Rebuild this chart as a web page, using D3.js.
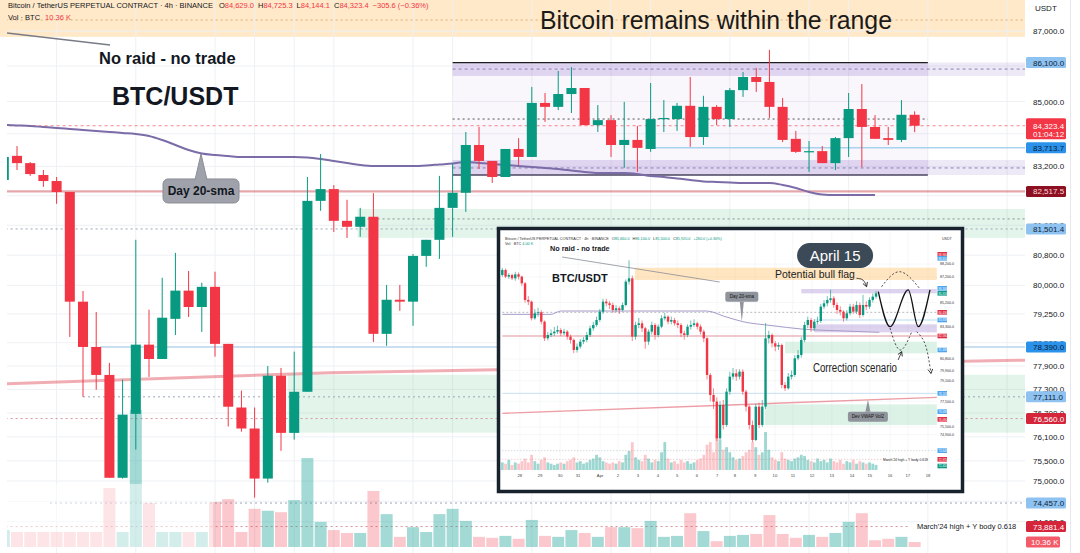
<!DOCTYPE html>
<html>
<head>
<meta charset="utf-8">
<script src="https://cdn.jsdelivr.net/npm/d3@7/dist/d3.min.js"></script>
<style>
html,body{margin:0;padding:0;background:#fff;overflow:hidden;}
svg{display:block;}
text{font-family:"Liberation Sans",Arial,sans-serif;}
</style>
</head>
<body>
<svg id="chart" width="1080" height="553"></svg>
<script>
// ================= MAIN CHART DATA (BTC/USDT perpetual, 4h) =================
const candleOpen = [82830,83490,83290,82965,82800,82500,79570,78390,77670,75080,
 76680,78450,78080,79120,79860,79430,79960,78470,76840,76310,
 75060,77650,76200,77240,82260,82580,81720,81560,81830,78730,
 79620,79570,80780,81210,82070,82480,83790,83350,82910,83680,
 83460,84960,84850,85210,85380,84340,84480,83790,83930,83680,
 84510,84510,84880,84010,84850,84510,85320,85690,85550,84850,
 83960,83600,83620,83290,83980,84790,84290,83980,83930,84629.0];
const candleHigh = [83600,83760,83320,83100,82910,82500,79850,79300,77980,77550,
 81210,79360,80200,80860,80380,80070,80360,78470,77270,76840,
 77900,77850,78270,82910,83540,82690,82290,82070,82470,80010,
 80010,80830,81210,82940,83290,84150,84290,83350,83680,83980,
 85410,85240,85860,85970,85380,84900,84620,84990,84320,85520,
 85040,84960,85690,85160,84900,85380,85830,85950,86460,85100,
 84180,83900,83760,84010,85240,85490,84620,84290,85040,84725.3];
const candleLow = [82770,83100,82940,82640,82180,78650,77110,77290,75080,75060,
 75780,77620,78080,78700,79170,78780,78140,76360,76230,74590,
 74960,75750,76030,77240,81990,81420,81260,81290,78520,78420,
 79330,78940,80490,80700,81290,81960,83130,82750,82910,83240,
 83460,84430,84760,84680,84340,84150,83460,83160,83050,83600,
 84150,84180,83740,83790,84340,84290,85130,85270,84540,83870,
 83570,83050,83290,83100,83460,83180,83960,83790,83870,84144.1];
const candleClose = [83460,83290,82990,82800,82500,79570,78390,77670,75080,76660,
 78450,78080,79150,79860,79430,79960,78470,76860,76310,75060,
 77650,76200,77240,82260,82580,81720,81560,81830,78730,79620,
 79570,80780,81210,82070,82480,83790,83350,82910,83680,83460,
 84960,84850,85210,85380,84340,84480,83790,83930,83710,84510,
 84540,84880,84010,84850,84510,85320,85690,85550,84850,83930,
 83600,83620,83290,83980,84790,84290,83960,83930,84629,84323.4];
const candleVolume = [35,31,31,31,31,31,31,31,122,31,
 284,91,31,31,31,31,93,99,31,79,
 75,72,97,184,52,35,29,29,116,68,
 21,41,31,68,79,54,21,19,23,17,
 56,23,21,35,29,21,41,41,39,54,
 21,23,70,33,12,23,25,27,66,27,
 19,25,21,29,52,70,14,17,21,10.36];
const sma20Day = [84345,84331,84317,84289,84261,84234,84206,84178,84150,84123,
 84095,84039,83928,83790,83652,83555,83514,83486,83459,83459,
 83459,83459,83459,83445,83404,83349,83294,83239,83211,83211,
 83211,83211,83225,83253,83280,83321,83294,83267,83239,83211,
 83184,83157,83129,83088,83047,83020,83020,83020,82993,82938,
 82911,82870,82829,82788,82774,82761,82747,82747,82747,82693,
 82611,82502,82434,82420,82420,82420,82420];
const vwapLine = [[0.24,77445],[24.7,77725],[77.36,78050]];
const trendLine = [[0.24,86940],[8.05,86600]];
const dayGridIdx = [4,10,16,19,22,25,31,34,40,46,49,55,61,64,70,76];
const priceTicks = [87000,86000,85000,84100,83200,82400,81600,80800,80000,79250,78500,77900,77300,76700,76100,75500,75000,74500,74000];
const priceTickLabels = [87000,85000,83200,81600,80800,80000,79250,78500,77900,77300,76700,76100,75500,75000,74000];
const levelValues = [86100,84323.4,83713.7,82517.5,81501.4,78390,77111,76560,74457,73881.4];
const levelKinds = ["light","last","blue","dark","light","blue","light","red","light","red"];
const lastCountdown = "01:04:12";
// zones [idxStart, idxEnd, priceLow, priceHigh]
const orangeZone = [-1, 77.36, 86830, 88200];
const rangeTopBand = [34, 70, 85720, 86100];
const rangeBottomBand = [34, 70, 82965, 83376];
const rangeExtTop = [70, 77.36, 85720, 86100];
const rangeExtBottom = [70, 77.36, 82965, 83376];
const greenZoneUpper = [26.8, 77.36, 81260, 82040];
const greenZoneLower = [21.5, 77.36, 76205, 77674];

// ================= INSET (April 15 snapshot) DATA =================
const insetFirstOpen = 87350;
const insetClose = [87740,87220,87350,87090,87400,87220,86700,85400,85270,83970,
 84360,84440,83710,82410,82670,82800,82930,83060,82800,82930,
 82540,82280,81500,81760,82150,82280,82670,83190,83450,83840,
 84490,85270,85140,85010,84620,84750,84620,85010,86830,87090,
 82540,83450,83580,83190,82150,82930,83450,82670,83320,83970,
 84100,83710,83840,83580,83450,82800,82670,83320,83450,83580,
 83320,82930,82410,79550,77990,77470,74610,77210,75650,78250,
 79420,79680,79420,79810,78250,77080,75650,74480,77080,75650,
 77080,82410,82670,82020,81760,81890,78770,78510,79420,79550,
 80850,81110,82280,83450,83840,83190,83710,83760,84880,85140,
 85400,85530,85010,84620,84490,83970,84360,84880,84490,85010,
 84230,85010,84880,85400,85660,85920];
const insetHigh = [87900,87850,87500,87450,87600,87550,87300,86800,85700,85350,
 84700,84800,84600,83800,82900,83100,83300,83400,83200,83150,
 83050,82700,82400,82000,82350,82500,82900,83400,83700,84100,
 84700,85500,85500,85300,85200,85000,84900,85200,87000,88500,
 87300,83700,84000,83800,83300,83100,83700,83600,83500,84200,
 84400,84200,84100,84000,83800,83600,83000,83500,83800,83900,
 83700,83500,83100,82500,79700,78500,77800,77500,77600,78500,
 79800,80100,80000,80000,80000,78400,77200,76000,77300,77400,
 77600,83600,83000,82800,82200,82100,82000,79000,79700,79900,
 81100,81500,82500,83700,84100,84000,83900,84100,85100,85400,
 85700,86200,85700,85200,84900,84600,84600,85100,85100,85300,
 85200,85800,85300,85600,85900,86100];
const insetLow = [87200,87100,87050,86950,86900,87000,86500,85200,85000,83800,
 83850,84100,83500,82200,82250,82500,82600,82750,82600,82650,
 82300,82000,81250,81300,81600,81950,82100,82500,83000,83300,
 83700,84300,84900,84700,84400,84450,84300,84500,84900,86600,
 82200,82300,83200,82900,81600,81900,82700,82300,82500,83200,
 83800,83500,83500,83400,83200,82500,82300,82500,83100,83300,
 83100,82700,82100,79200,77500,76900,74400,74500,75300,75500,
 78000,79200,79100,79200,78000,76700,75300,74300,74400,75400,
 75500,76900,82000,81700,81400,81500,78500,78300,78400,79200,
 79400,80700,80900,82100,83200,82900,83000,83500,83600,84700,
 84900,85200,84800,84300,84200,83700,83800,84200,84300,84300,
 84000,84100,84600,84700,85200,85500];
const insetVolume = [6,5,8,4,6,5,7,9,6,12, 7,5,8,10,6,5,4,5,6,5,
 7,8,10,6,7,5,6,8,9,12, 10,7,6,5,6,5,7,6,12,15,
 22,10,8,7,12,9,6,8,7,14, 22,9,6,7,5,8,6,7,5,6,
 8,9,12,20,22,14,28,24,16,18, 14,10,8,9,11,14,16,22,18,12,
 14,30,16,10,8,7,14,9,8,7, 9,10,12,11,8,7,6,9,7,8,
 6,9,7,6,8,5,7,6,8,5, 7,6,5,6,5,4];
const insetSma = [[0,84280],[15,84280],[18,84540],[63,84540],[68,84150],[74,83708],[83,83400],[92,83136],[105,82980],[116,82876]];
const insetVwap = [[0,76558],[133.7,77806]];
const insetTrend = [[18.4,88752],[66.9,86802]];
const insetDayLabels = ["28","29","30","31","Apr","2","3","4","5","6","7","8","9","10","11","12","13","14","15","16","17","18"];
const insetDayIdx = [5.4,11.6,17.8,23.3,30.1,35.6,41.7,47.9,53.8,59.9,66.1,71.6,77.8,83.9,89.4,95.3,101.4,107.6,113.1,119.3,124.8,131];
const insetTicks = [88200,87200,85200,83300,80800,79900,79100,77500,75500,74900];
const insetLevelValues = [88960,88650,86308,85918,84436,83838,82590,81498,78118,76688,76090,73646,72970,72450];
const insetLevelKinds = ["red","blue","blue","green","red","blue","red","blue","blue","blue","red","blue","red","green"];
const insetOrange = [40.8,133.7,86958,87920];
const insetPurpleTop = [92,133.7,85918,86256];
const insetPurpleBottom = [96,133.7,82876,83500];
const insetGreenUpper = [87,133.7,81238,82148];
const insetGreenLower = [80.8,133.7,75648,77260];
const insetZigzag = [[115.7,86045],[119.3,83315],[124.9,86180],[128,83315],[131.6,86180]];
const insetUpperArc = [[116.7,86435],[122.3,87605],[128.4,86305]];
const insetLowerArc = [[119.3,83214],[122.4,81498],[126,82926]];
const insetDropArrow = [[127.5,82926],[130.2,81888],[131.9,79674]];
const insetFlagArrow = [[109,87090],[111,86950],[112.1,86435]];
const insetCorrArrow = [[121.8,80718],[122.9,81370]];

// ================= SCALES =================
const x = d3.scaleLinear().domain([0, 77.36]).range([3.8, 1025]);
const y = d3.scaleLog().domain([75000, 87000]).range([481, 31]);
const vY = d3.scaleLinear().domain([0, 300]).range([547, 402]);
const GREEN = "#089981", RED = "#f23645";
const fmt = d3.format(",.1f");

const svg = d3.select("#chart");
const defs = svg.append("defs");
defs.append("clipPath").attr("id","mainClip").append("rect").attr("x",7).attr("y",0).attr("width",1018).attr("height",553);
defs.append("clipPath").attr("id","insetClip").append("rect").attr("x",500).attr("y",230).attr("width",461).attr("height",260);
const mk = defs.append("marker").attr("id","arrow").attr("viewBox","0 0 10 10").attr("refX",8).attr("refY",5)
  .attr("markerUnits","userSpaceOnUse").attr("markerWidth",6).attr("markerHeight",6).attr("orient","auto");
mk.append("path").attr("d","M1,1 L8,5 L1,9").attr("fill","none").attr("stroke","#222").attr("stroke-width",1.4);

svg.append("rect").attr("width",1080).attr("height",553).attr("fill","#fff");

// ---------- helpers ----------
function zoneRect(g, z, fill, xs, ys){
  g.append("rect").attr("x",xs(z[0])).attr("width",xs(z[1])-xs(z[0]))
   .attr("y",ys(z[3])).attr("height",ys(z[2])-ys(z[3])).attr("fill",fill);
}
function hLine(g, i0, i1, p, stroke, w, dash, xs, ys){
  const l = g.append("line").attr("x1",xs(i0)).attr("x2",xs(i1)).attr("y1",ys(p)).attr("y2",ys(p))
   .attr("stroke",stroke).attr("stroke-width",w);
  if(dash) l.attr("stroke-dasharray",dash);
  return l;
}

// ---------- main plot ----------
const orangeG = svg.append("g");
zoneRect(orangeG, orangeZone, "rgba(255,183,77,0.30)", x, y);
const main = svg.append("g").attr("clip-path","url(#mainClip)");
main.selectAll("line.hg").data(priceTicks).join("line").attr("class","hg")
  .attr("x1",7).attr("x2",1025).attr("y1",d=>y(d)).attr("y2",d=>y(d)).attr("stroke","#eef0f4");
main.selectAll("line.vg").data(dayGridIdx).join("line").attr("class","vg")
  .attr("x1",d=>x(d)).attr("x2",d=>x(d)).attr("y1",0).attr("y2",553).attr("stroke","#eef0f4");
hLine(main, -1, 77.36, 87316, "#d9b07a", 1, "2,3", x, y);

// range box
zoneRect(main, [34,70,rangeBottomBand[3],rangeTopBand[2]], "rgba(149,117,205,0.06)", x, y);
zoneRect(main, rangeTopBand, "rgba(149,117,205,0.30)", x, y);
zoneRect(main, rangeBottomBand, "rgba(149,117,205,0.30)", x, y);
zoneRect(main, rangeExtTop, "rgba(149,117,205,0.16)", x, y);
zoneRect(main, rangeExtBottom, "rgba(149,117,205,0.16)", x, y);
hLine(main, 34, 77.36, 85915, "#8c7fb0", 1, "3,3", x, y);
hLine(main, 34, 77.36, 83158, "#8c7fb0", 1, "3,3", x, y);
hLine(main, 34, 70, rangeTopBand[3], "#1f1f1f", 1.3, null, x, y);
hLine(main, 34, 70, rangeBottomBand[2], "#4b4560", 1.3, null, x, y);
hLine(main, 34, 70, 84510, "#555", 1, "2,3", x, y);

// green zones
zoneRect(main, greenZoneUpper, "rgba(67,185,120,0.15)", x, y);
zoneRect(main, greenZoneLower, "rgba(67,185,120,0.15)", x, y);
hLine(main, 26.8, 77.36, 81771, "#8a8f99", 1, "2,3", x, y);

// level lines
hLine(main, -1, 77.36, 84323.4, "rgba(242,54,69,0.6)", 1, "3,3", x, y);
hLine(main, 49, 77.36, 83713.7, "#a9d2ee", 1.5, null, x, y);
hLine(main, -1, 77.36, 82517.5, "rgba(200,60,70,0.45)", 2.2, null, x, y);
hLine(main, -1, 77.36, 81501.4, "#9aa7b8", 1, "2,3", x, y);
hLine(main, 7.3, 77.36, 78390, "#b9d6ec", 1.5, null, x, y);
hLine(main, 6.0, 77.36, 77111, "#9aa7b8", 1, "2,3", x, y);
hLine(main, -1, 77.36, 76560, "#d9939a", 1, "2,3", x, y);
hLine(main, 3.5, 77.36, 74457, "#9aa7b8", 1, "2,3", x, y);
hLine(main, -1, 68.65, 73881.4, "#d9939a", 1, "2,3", x, y);

// volume
const candles = d3.range(candleOpen.length).map(i=>({i,o:candleOpen[i],h:candleHigh[i],l:candleLow[i],c:candleClose[i],v:candleVolume[i]}));
const step = x(1)-x(0);
main.selectAll("rect.vol").data(candles).join("rect").attr("class","vol")
  .attr("x",d=>x(d.i)-(step-1.2)/2).attr("width",step-1.2)
  .attr("y",d=>vY(d.v)).attr("height",d=>vY(0)-vY(d.v))
  .attr("fill",d=>d.c>=d.o?"rgba(38,166,154,0.42)":"rgba(242,54,69,0.27)");
main.append("rect").attr("x",7).attr("y",484).attr("width",206).attr("height",64).attr("fill","#fff").attr("opacity",0.5);

// moving averages
main.append("path").datum(vwapLine).attr("fill","none").attr("stroke","rgba(220,60,75,0.42)").attr("stroke-width",3)
  .attr("d", d3.line().x(d=>x(d[0])).y(d=>y(d[1])));
main.append("path").datum(sma20Day).attr("fill","none").attr("stroke","#7b6ca8").attr("stroke-width",2)
  .attr("d", d3.line().x((d,i)=>x(i)).y(d=>y(d)).curve(d3.curveMonotoneX));
main.append("path").datum(trendLine).attr("fill","none").attr("stroke","#787b86").attr("stroke-width",1.5)
  .attr("d", d3.line().x(d=>x(d[0])).y(d=>y(d[1])));

// candles
const bw = step*0.76;
main.selectAll("line.wick").data(candles).join("line").attr("class","wick")
  .attr("x1",d=>x(d.i)).attr("x2",d=>x(d.i)).attr("y1",d=>y(d.h)).attr("y2",d=>y(d.l))
  .attr("stroke",d=>d.c>=d.o?GREEN:RED).attr("stroke-width",1);
main.selectAll("rect.body").data(candles).join("rect").attr("class","body")
  .attr("x",d=>x(d.i)-bw/2).attr("width",bw)
  .attr("y",d=>y(Math.max(d.o,d.c))).attr("height",d=>Math.max(1.2,Math.abs(y(d.o)-y(d.c))))
  .attr("fill",d=>d.c>=d.o?GREEN:RED);

// annotations main
main.append("text").attr("x",x(76.7)).attr("y",y(73881.4)+2.6).attr("text-anchor","end")
  .attr("font-size",7.5).attr("fill","#131722").text("March'24 high + Y body 0.618");
const tip = [x(14.94), y(83542)];
const cg = svg.append("g");
cg.append("path").attr("d",`M${tip[0]-6},${tip[1]+26} L${tip[0]},${tip[1]} L${tip[0]+6},${tip[1]+26} Z`).attr("fill","#9fa2aa").attr("stroke","#8a8d95");
cg.append("rect").attr("x",tip[0]-38).attr("y",tip[1]+25).attr("width",76).attr("height",24).attr("rx",5)
  .attr("fill","#9fa2aa").attr("stroke","#8a8d95");
cg.append("rect").attr("x",tip[0]-5).attr("y",tip[1]+22).attr("width",10).attr("height",5).attr("fill","#9fa2aa");
cg.append("text").attr("x",tip[0]).attr("y",tip[1]+41.5).attr("text-anchor","middle").attr("font-size",12)
  .attr("font-family","'Open Sans',sans-serif").attr("font-weight",600).attr("fill","#131722").text("Day 20-sma");

svg.append("text").attr("x",x(7.21)).attr("y",y(86059)).attr("font-family","'Open Sans',sans-serif").attr("font-weight",600)
  .attr("font-size",16.5).attr("fill","#131722").text("No raid - no trade");
svg.append("text").attr("x",x(8.2)).attr("y",y(84902)).attr("font-family","'Open Sans',sans-serif").attr("font-weight",600)
  .attr("font-size",25).attr("fill","#131722").text("BTC/USDT");
svg.append("text").attr("x",x(53.95)).attr("y",y(87057)).attr("text-anchor","middle").attr("font-family","Lato,'Open Sans',sans-serif")
  .attr("font-weight",300).attr("font-size",26).attr("textLength",352).attr("lengthAdjust","spacingAndGlyphs")
  .attr("fill","#1a1a1a").text("Bitcoin remains within the range");

// ================= INSET =================
const ix = d3.scaleLinear().domain([0, 133.7]).range([502.3, 936.8]);
const iy = d3.scaleLinear().domain([78300, 86100]).range([391, 291]);
const iv = d3.scaleLinear().domain([0, 30]).range([470, 432]);
const inset = svg.append("g");
inset.append("rect").attr("x",498.5).attr("y",228.5).attr("width",464).attr("height",263).attr("fill","#fff");
const ig = inset.append("g").attr("clip-path","url(#insetClip)");
ig.selectAll("line.ivg").data(insetDayIdx).join("line").attr("class","ivg")
  .attr("x1",d=>ix(d)).attr("x2",d=>ix(d)).attr("y1",232).attr("y2",472).attr("stroke","#f0f1f4").attr("stroke-width",0.6);
ig.selectAll("line.ihg").data(insetTicks).join("line").attr("class","ihg")
  .attr("x1",502).attr("x2",937).attr("y1",d=>iy(d)).attr("y2",d=>iy(d)).attr("stroke","#f0f1f4").attr("stroke-width",0.6);
zoneRect(ig, insetOrange, "rgba(255,183,77,0.35)", ix, iy);
zoneRect(ig, insetPurpleTop, "rgba(149,117,205,0.32)", ix, iy);
zoneRect(ig, insetPurpleBottom, "rgba(149,117,205,0.32)", ix, iy);
zoneRect(ig, insetGreenUpper, "rgba(67,185,120,0.18)", ix, iy);
zoneRect(ig, insetGreenLower, "rgba(67,185,120,0.18)", ix, iy);
hLine(ig, 0, 133.7, 82590, "rgba(200,60,70,0.55)", 1.1, null, ix, iy);
hLine(ig, 0, 133.7, 84436, "#9a9ea8", 0.7, "2,2", ix, iy);
hLine(ig, 96, 133.7, 83838, "#a9d2ee", 0.8, null, ix, iy);
hLine(ig, 0, 133.7, 78118, "#b9d6ec", 0.8, null, ix, iy);
hLine(ig, 0, 133.7, 73646, "#9aa7b8", 0.6, "1,2", ix, iy);
hLine(ig, 0, 120, 72970, "#d9939a", 0.6, "1,2", ix, iy);
ig.append("path").datum(insetVwap).attr("fill","none").attr("stroke","rgba(220,60,75,0.5)").attr("stroke-width",1.4)
  .attr("d", d3.line().x(d=>ix(d[0])).y(d=>iy(d[1])));
ig.append("path").datum(insetTrend).attr("fill","none").attr("stroke","#8a8d95").attr("stroke-width",0.8)
  .attr("d", d3.line().x(d=>ix(d[0])).y(d=>iy(d[1])));
ig.append("path").datum(insetSma).attr("fill","none").attr("stroke","#a79bc9").attr("stroke-width",1)
  .attr("d", d3.line().x(d=>ix(d[0])).y(d=>iy(d[1])).curve(d3.curveMonotoneX));

const icandles = insetClose.map((c,i)=>({i,o:i===0?insetFirstOpen:insetClose[i-1],h:insetHigh[i],l:insetLow[i],c,v:insetVolume[i]}));
ig.selectAll("rect.ivol").data(icandles).join("rect").attr("class","ivol")
  .attr("x",d=>ix(d.i)-1.4).attr("width",2.8).attr("y",d=>iv(d.v)).attr("height",d=>iv(0)-iv(d.v))
  .attr("fill",d=>d.c>=d.o?"rgba(38,166,154,0.45)":"rgba(242,54,69,0.28)");
ig.selectAll("line.iwick").data(icandles).join("line").attr("class","iwick")
  .attr("x1",d=>ix(d.i)).attr("x2",d=>ix(d.i)).attr("y1",d=>iy(d.h)).attr("y2",d=>iy(d.l))
  .attr("stroke",d=>d.c>=d.o?GREEN:RED).attr("stroke-width",0.6);
ig.selectAll("rect.ibody").data(icandles).join("rect").attr("class","ibody")
  .attr("x",d=>ix(d.i)-1.2).attr("width",2.4)
  .attr("y",d=>iy(Math.max(d.o,d.c))).attr("height",d=>Math.max(0.8,Math.abs(iy(d.o)-iy(d.c))))
  .attr("fill",d=>d.c>=d.o?GREEN:RED);

// inset projections
ig.append("path").datum(insetZigzag).attr("fill","none").attr("stroke","#111").attr("stroke-width",1.3)
  .attr("d", d3.line().x(d=>ix(d[0])).y(d=>iy(d[1])).curve(d3.curveMonotoneX));
ig.append("path").datum(insetUpperArc).attr("fill","none").attr("stroke","#222").attr("stroke-width",0.8).attr("stroke-dasharray","2,2")
  .attr("d", d3.line().x(d=>ix(d[0])).y(d=>iy(d[1])).curve(d3.curveNatural));
ig.append("path").datum(insetLowerArc).attr("fill","none").attr("stroke","#222").attr("stroke-width",0.8).attr("stroke-dasharray","2,2")
  .attr("d", d3.line().x(d=>ix(d[0])).y(d=>iy(d[1])).curve(d3.curveNatural));
ig.append("path").datum(insetDropArrow).attr("fill","none").attr("stroke","#222").attr("stroke-width",0.8).attr("stroke-dasharray","2,2")
  .attr("marker-end","url(#arrow)").attr("d", d3.line().x(d=>ix(d[0])).y(d=>iy(d[1])).curve(d3.curveNatural));
ig.append("path").datum(insetFlagArrow).attr("fill","none").attr("stroke","#222").attr("stroke-width",0.8)
  .attr("marker-end","url(#arrow)").attr("d", d3.line().x(d=>ix(d[0])).y(d=>iy(d[1])).curve(d3.curveNatural));
ig.append("path").datum(insetCorrArrow).attr("fill","none").attr("stroke","#222").attr("stroke-width",0.8)
  .attr("marker-end","url(#arrow)").attr("d", d3.line().x(d=>ix(d[0])).y(d=>iy(d[1])));

// inset callouts
function callout(g, tx, ty, above, w, label){
  const by = above ? ty-30 : ty+12;
  g.append("path").attr("d", above ? `M${tx-2},${ty-20} L${tx},${ty} L${tx+2},${ty-20} Z` : `M${tx-2.5},${ty+12} L${tx},${ty} L${tx+2.5},${ty+12} Z`).attr("fill","#8f939b");
  g.append("rect").attr("x",tx-w/2).attr("y",by).attr("width",w).attr("height",10).attr("rx",2).attr("fill","#8f939b");
  g.append("text").attr("x",tx).attr("y",by+6.5).attr("text-anchor","middle").attr("font-size",4.5).attr("fill","#111").text(label);
}
callout(ig, ix(73.7), iy(83708), true, 33, "Day 20-sma");
callout(ig, ix(112.5), iy(77608), false, 40, "Dev VWAP Vol2");

// inset texts
const ihdr = ig.append("text").attr("x",505).attr("y",240).attr("font-size",3.8).attr("fill","#333");
ihdr.append("tspan").text("Bitcoin / TetherUS PERPETUAL CONTRACT · 4h · BINANCE");
const li = icandles[icandles.length-1];
[["O",li.o],["H",li.h],["L",li.l],["C",li.c]].forEach(p=>{
  ihdr.append("tspan").attr("dx",3).text(p[0]);
  ihdr.append("tspan").attr("fill",GREEN).text(fmt(p[1]));
});
ihdr.append("tspan").attr("dx",3).attr("fill",GREEN).text("+"+fmt(li.c-li.o)+" (+"+((li.c-li.o)/li.o*100).toFixed(2)+"%)");
const ivol = ig.append("text").attr("x",505).attr("y",245).attr("font-size",3.8).attr("fill","#333");
ivol.append("tspan").text("Vol · BTC ");
ivol.append("tspan").attr("fill",GREEN).text(li.v.toFixed(2)+" K");

ig.append("text").attr("x",ix(14.7)).attr("y",iy(89220)).attr("font-family","'Open Sans',sans-serif").attr("font-weight",700)
  .attr("font-size",7.2).attr("fill","#131722").text("No raid - no trade");
ig.append("text").attr("x",ix(15.3)).attr("y",iy(86802)).attr("font-family","'Open Sans',sans-serif").attr("font-weight",700)
  .attr("font-size",11).attr("fill","#131722").text("BTC/USDT");
const pill = [ix(102.4), iy(88869)];
ig.append("rect").attr("x",pill[0]-38).attr("y",pill[1]-12.5).attr("width",76).attr("height",25).attr("rx",12.5).attr("fill","#3c4956");
ig.append("text").attr("x",pill[0]).attr("y",pill[1]+5).attr("text-anchor","middle").attr("font-family","'Open Sans',sans-serif")
  .attr("font-size",15).attr("fill","#fff").text("April 15");
ig.append("text").attr("x",ix(83.9)).attr("y",iy(87114)).attr("font-family","Lato,'Open Sans',sans-serif").attr("font-weight",300)
  .attr("font-size",11).attr("textLength",80).attr("lengthAdjust","spacingAndGlyphs").attr("fill","#222").text("Potential bull flag");
ig.append("text").attr("x",ix(95.6)).attr("y",iy(79782)).attr("font-family","Lato,'Open Sans',sans-serif").attr("font-weight",300)
  .attr("font-size",12).attr("textLength",84).attr("lengthAdjust","spacingAndGlyphs").attr("fill","#222").text("Correction scenario");
ig.append("text").attr("x",928).attr("y",iy(72970)+1.3).attr("text-anchor","end").attr("font-size",3.4).attr("fill","#222")
  .text("March'24 high + Y body 0.618");

// inset axes
ig.append("rect").attr("x",937).attr("y",230).attr("width",25).attr("height",260).attr("fill","#fff");
ig.append("text").attr("x",942).attr("y",240).attr("font-size",3.6).attr("fill","#333").text("USDT");
ig.selectAll("text.itick").data(insetTicks).join("text").attr("class","itick")
  .attr("x",940).attr("y",d=>iy(d)+1.3).attr("font-size",3.6).attr("fill","#333").text(d=>fmt(d));
const iKind = {red:"#e0283c", blue:"#4aa3ee", green:"#089981"};
insetLevelValues.forEach((v,k)=>{
  ig.append("rect").attr("x",937.5).attr("y",iy(v)-2.3).attr("width",9.5).attr("height",4.6).attr("fill",iKind[insetLevelKinds[k]]);
  ig.append("text").attr("x",938.5).attr("y",iy(v)+1.2).attr("font-size",2.8).attr("fill","#fff").text(fmt(v));
});
ig.selectAll("text.iday").data(insetDayLabels).join("text").attr("class","iday")
  .attr("x",(d,k)=>ix(insetDayIdx[k])).attr("y",477).attr("text-anchor","middle").attr("font-size",4.2).attr("fill","#444").text(d=>d);
inset.append("rect").attr("x",498.5).attr("y",228.5).attr("width",464).attr("height",263)
  .attr("fill","none").attr("stroke","#18222d").attr("stroke-width",3.5);

// ================= RIGHT PRICE AXIS =================
const ax = svg.append("g");
ax.append("rect").attr("x",1025).attr("y",0).attr("width",55).attr("height",553).attr("fill","#fff");
ax.append("line").attr("x1",1070.5).attr("x2",1070.5).attr("y1",0).attr("y2",553).attr("stroke","#e6e8ee");
ax.append("text").attr("x",1035).attr("y",11).attr("font-size",8).attr("fill","#131722").text("USDT");
ax.selectAll("text.tick").data(priceTickLabels).join("text").attr("class","tick")
  .attr("x",1033).attr("y",d=>y(d)+3).attr("font-size",8).attr("fill","#131722").text(d=>fmt(d));
const kindStyle = {light:{bg:"#8ec2f0",fg:"#0d1c36"}, blue:{bg:"#2a92ea",fg:"#0d1c36"}, dark:{bg:"#8c1022",fg:"#ffd9dd"},
  red:{bg:"#d4253b",fg:"#ffffff"}, last:{bg:"#f23645",fg:"#ffffff"}};
levelValues.forEach((v,k)=>{
  const s = kindStyle[levelKinds[k]];
  const yy = y(v);
  if(levelKinds[k]==="last"){
    ax.append("rect").attr("x",1026).attr("y",yy-7.5).attr("width",40).attr("height",21).attr("rx",1.5).attr("fill",s.bg);
    ax.append("text").attr("x",1033).attr("y",yy+3).attr("font-size",8).attr("fill",s.fg).text(fmt(v));
    ax.append("text").attr("x",1033).attr("y",yy+11.5).attr("font-size",8).attr("fill",s.fg).text(lastCountdown);
  } else {
    ax.append("rect").attr("x",1026).attr("y",yy-5.5).attr("width",40).attr("height",11).attr("rx",1.5).attr("fill",s.bg);
    ax.append("text").attr("x",1033).attr("y",yy+3).attr("font-size",8).attr("fill",s.fg).text(fmt(v));
  }
});
const lastVol = candleVolume[candleVolume.length-1];
ax.append("rect").attr("x",1026).attr("y",vY(lastVol)-5.5).attr("width",34).attr("height",11).attr("rx",1.5).attr("fill","#f45b69");
ax.append("text").attr("x",1031).attr("y",vY(lastVol)+3).attr("font-size",8).attr("fill","#fff").text(lastVol.toFixed(2)+" K");

// ================= HEADER =================
const last = candles[candles.length-1];
const hdr = svg.append("text").attr("x",8).attr("y",8).attr("font-size",7.5).attr("fill","#131722");
hdr.append("tspan").text("Bitcoin / TetherUS PERPETUAL CONTRACT · 4h · BINANCE");
[["O",last.o],["H",last.h],["L",last.l],["C",last.c]].forEach((p,k)=>{
  hdr.append("tspan").attr("dx",k===0?6:4).text(p[0]);
  hdr.append("tspan").attr("fill",RED).text(fmt(p[1]));
});
const chg = last.c-last.o;
hdr.append("tspan").attr("dx",4).attr("fill",RED).text("\u2212"+fmt(Math.abs(chg))+" (\u2212"+Math.abs(chg/last.o*100).toFixed(2)+"%)");
const vh = svg.append("text").attr("x",8).attr("y",20).attr("font-size",7.5).attr("fill","#131722");
vh.append("tspan").text("Vol · BTC");
vh.append("tspan").attr("dx",5).attr("fill",RED).text(lastVol.toFixed(2)+" K");
</script>
</body>
</html>
